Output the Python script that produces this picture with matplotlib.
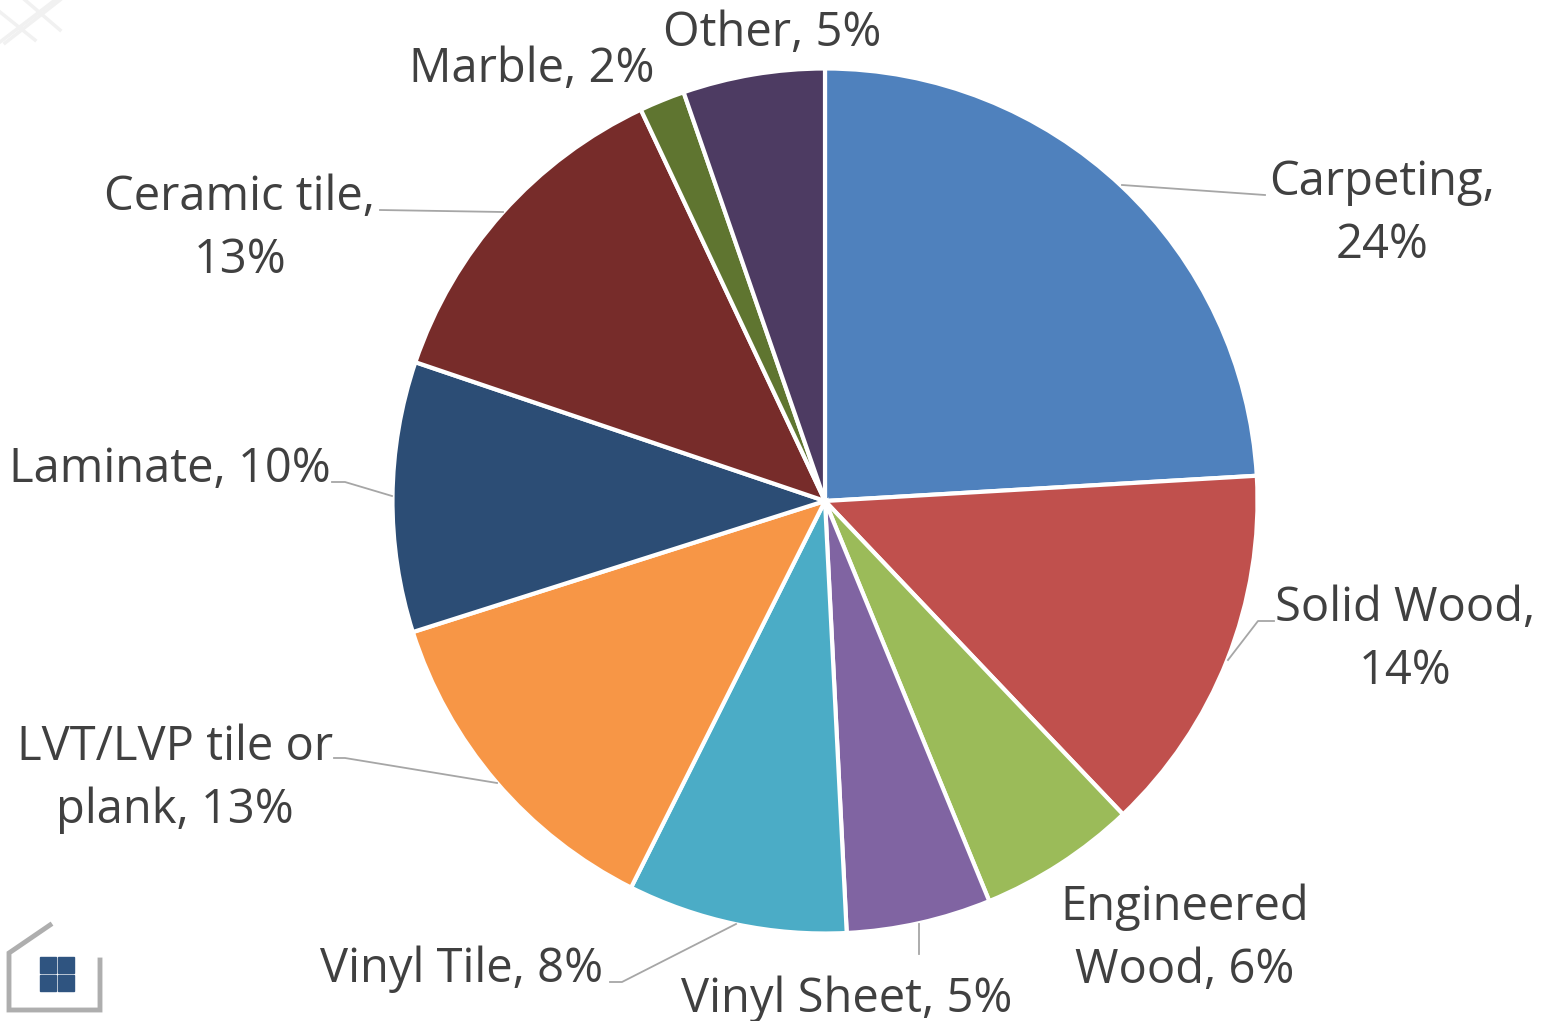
import numpy as np
import matplotlib
matplotlib.use('Agg')
import matplotlib.pyplot as plt
from matplotlib.patches import Rectangle

labels = ['Carpeting,\n24%', 'Solid Wood,\n14%', 'Engineered\nWood, 6%', 'Vinyl Sheet, 5%', 'Vinyl Tile, 8%',
          'LVT/LVP tile or\nplank, 13%', 'Laminate, 10%', 'Ceramic tile,\n13%', 'Marble, 2%', 'Other, 5%']
values = [24.07, 13.83, 5.9, 5.4, 8.2, 12.7, 10.1, 12.8, 1.7, 5.3]
colors = ['#4F81BD', '#C0504D', '#9BBB59', '#8064A2', '#4BACC6', '#F79646', '#2C4D75', '#772C2A', '#5F7530', '#4D3B62']
label_xy = [(1382, 214), (1405, 640), (1185, 939), (847, 999), (462, 969), (175, 779), (170, 469), (240, 229), (532, 69), (772, 33)]
leader_paths = [[(1122, 185), (1265, 195)], [(1228, 660), (1258, 621), (1274, 621)], [], [(919, 924), (919, 954)],
                [(736, 924), (622, 982), (610, 982)], [(497, 783), (345, 758), (334, 758)], [(392, 496), (345, 482), (332, 482)],
                [(503, 212), (380, 210)], [], []]

W, H = 1545, 1021
fig = plt.figure(figsize=(W/100, H/100), dpi=100)
ax = fig.add_axes([0, 0, 1, 1])
cx, cy, r = 825, 501, 432.5
ax.pie(values, colors=colors, startangle=90, counterclock=False, center=(cx, -cy), radius=r,
       wedgeprops=dict(edgecolor='white', linewidth=3), frame=False)
ax.set_aspect('equal')
ax.set_xlim(0, W); ax.set_ylim(-H, 0); ax.axis('off')
for t, xy in zip(labels, label_xy):
    ax.text(xy[0], -xy[1], t, ha='center', va='center', fontsize=33.9, color='#404040',
            family='Open Sans', linespacing=1.42)
for p in leader_paths:
    if p:
        ax.plot([q[0] for q in p], [-q[1] for q in p], color='#A6A6A6', lw=1.3)
# house logo: open outline in soft grey, blue four-pane window
ax.plot([50, 9, 9, 100, 100], [-925, -953, -1010, -1010, -960], color='#A0A0A0', lw=3.5, alpha=.85,
        solid_joinstyle='miter')
for x, y in [(40, 957), (58, 957), (40, 975), (58, 975)]:
    ax.add_patch(Rectangle((x, -y-16), 16, 16, color='#2F5480'))
# faint lattice in the top-left corner
for seg in [((0, 42), (55, 0)), ((5, 43), (60, 0)), ((0, 12), (35, 40)), ((25, 0), (60, 30))]:
    ax.plot([seg[0][0], seg[1][0]], [-seg[0][1], -seg[1][1]], color='#F1F1F1', lw=2.5)
fig.savefig('out.png', dpi=100)
